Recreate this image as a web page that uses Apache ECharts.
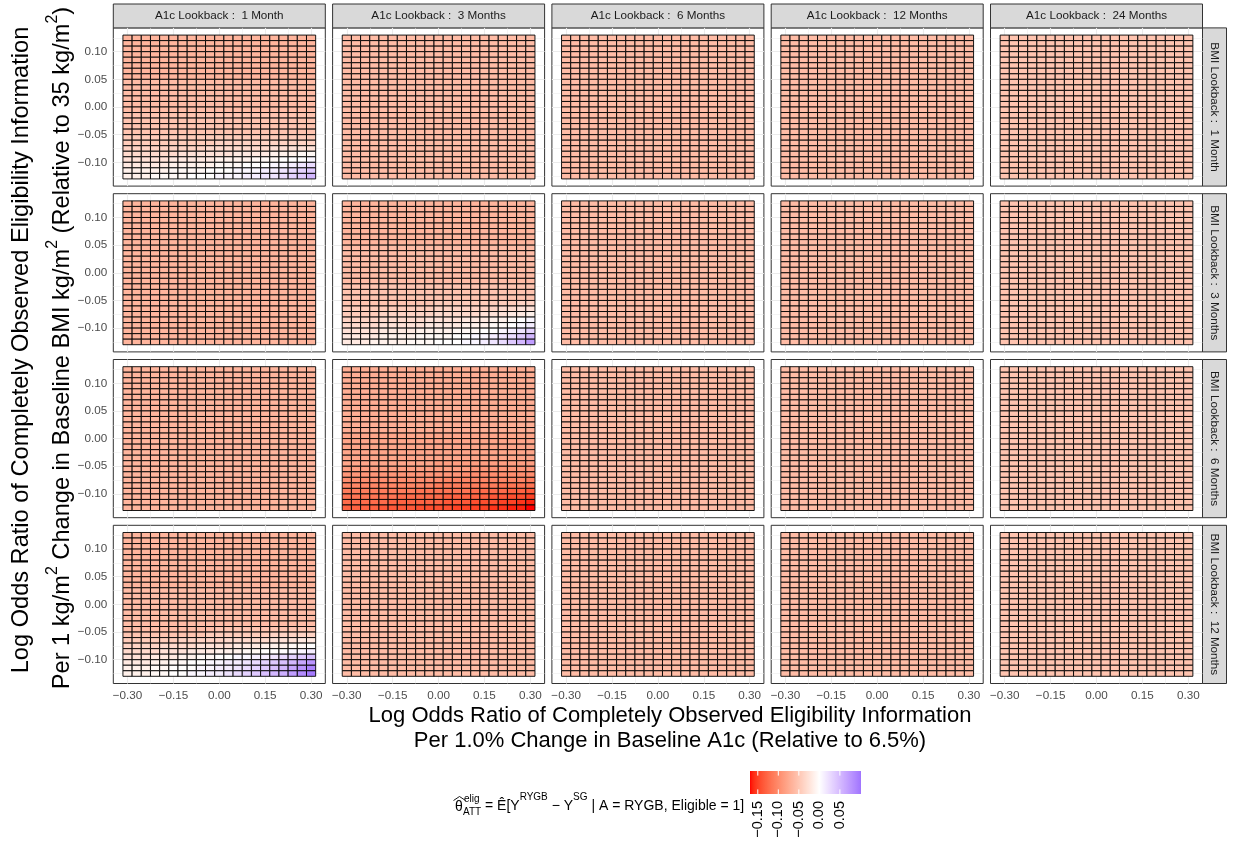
<!DOCTYPE html>
<html>
<head>
<meta charset="utf-8">
<script src="https://cdn.jsdelivr.net/npm/echarts@6/dist/echarts.min.js"></script>
<style>html,body{margin:0;padding:0;background:#fff}#chart{width:1235px;height:845px}</style>
</head>
<body>
<div id="chart"></div>
<script>
// ---------------- DATA ----------------
const A1C_LABELS = ['A1c Lookback :  1 Month', 'A1c Lookback :  3 Months', 'A1c Lookback :  6 Months', 'A1c Lookback :  12 Months', 'A1c Lookback :  24 Months'];
const BMI_LABELS = ['BMI Lookback :  1 Month', 'BMI Lookback :  3 Months', 'BMI Lookback :  6 Months', 'BMI Lookback :  12 Months'];
const X_VALUES = [-0.30, -0.27, -0.24, -0.21, -0.18, -0.15, -0.12, -0.09, -0.06, -0.03, 0.00, 0.03, 0.06, 0.09, 0.12, 0.15, 0.18, 0.21, 0.24, 0.27, 0.30];
const Y_VALUES = [0.125, 0.115, 0.105, 0.095, 0.085, 0.075, 0.065, 0.055, 0.045, 0.035, 0.025, 0.015, 0.005, -0.005, -0.015, -0.025, -0.035, -0.045, -0.055, -0.065, -0.075, -0.085, -0.095, -0.105, -0.115, -0.125];
const X_TICKS = [-0.30, -0.15, 0.00, 0.15, 0.30];
const X_MINOR = [-0.225, -0.075, 0.075, 0.225];
const Y_TICKS = [-0.10, -0.05, 0.00, 0.05, 0.10];
const Y_MINOR = [-0.125, -0.075, -0.025, 0.025, 0.075, 0.125];
const LEGEND_BREAKS = [-0.15, -0.10, -0.05, 0.00, 0.05];
const VALUE_RANGE = [-0.169, 0.1015];
// cell value codes: 'a' = -0.169 ... 'A' = 0.000 ... 'P' = +0.0975 (step 0.0065)
const VALUE_CODES = 'abcdefghijklmnopqrstuvwxyzABCDEFGHIJKLMNOP';
const CODE_MIN = -0.169, CODE_STEP = 0.0065;

// rows listed top (y = 0.125) to bottom (y = -0.125); 21 columns x = -0.30 .. 0.30
const BMI1_A1C1 = [
 'qqqqqqq qqqqqqq qqqqqqq','qqqqqqq qqqqqqq qqqqqqq','qqqqqqq qqqqqqq qqqqqqq','qqqqqqq qqqqqqq qqqqqqq',
 'qqqqqqq qqqqqqq qqqqqqq','qqqqqqq qqqqqqq qqqqqqq','qqqqqqq qqqqqqq qqqqqqq','qqqqqqq qqqqqqq qqqqqqq',
 'rrrrrrr rrrrrrr rrrrrrr','rrrrrrr rrrrrrr rrrrrrr','rrrrrrr rrrrrrr rrrrrrr','rrrrrrr rrrrrrr rrrrrrr',
 'rrrrrrr rrrrrrr rrrrrrr','rrrrrrr rrrrrrr rrrrrrr','sssssss sssssss sssssss','sssssss sssssss sssssss',
 'sssssss sssssss sssssss','sssssss sssssss sssssss','ttttttt ttttttt ttttttt','ttttttt tttuuuu uuuuuuu',
 'uuuuuuu uuvvvvv vvwwwww','vvvvvvw wwwwwxx xxyyyzz','wwwwwxx xxxyyyy zzzAAAB','xxxxxyy yyyzzzA AABBCDE',
 'yyyyyzz zzAAABB BCCDEFG','yyyzzzz AAABBBC CDDEFGI'];
const BMI1_A1C3 = [
 'rrrrrrr rrrrrrr rrrrrrr','rrrrrrr rrrrrrr rrrrrrr','rrrrrrr rrrrrrr rrrrrrr','rrrrrrr rrrrrrr rrrrrrr',
 'rrrrrrr rrrrrrr rrrrrrr','rrrrrrr rrrrrrr rrrrrrr','rrrrrrr rrrrrrr rrrrrrr','rrrrrrr rrrrrrr rrrrrrr',
 'rrrrrrr rrrrrrr rrrrrrr','rrrrrrr rrrrrrr rrrrrrr','rrrrrrr rrrrrrr rrrrrrr','rrrrrrr rrrrrrr rrrrrrr',
 'rrrrrrr rrrrrrr rrrrrrr','rrrrrrr rrrrrrr rrrrrrr','rrrrrrr rrrrrrr rrrrrrr','rrrrrrr rrrrrrr rrrrrrr',
 'rrrrrrr rrrrrrr rrrrrrr','rrrrrrr rrrrrrr rrrrrrr','rrrrrrr rrrrrrr rrrrrrr','rrrrrrr rrrrrrr rrrrrrr',
 'rrrrrrr rrrrrrr rrrrrrr','rrrrrrr rrrrrrr rrrrrrr','rrrrrrr rrrrrrr rrrrrrr','rrrrrrr rrrrrrr rrrrrrr',
 'rrrrrrr rrrrrrr rrrrrrr','rrrrrrr rrrrrrr rrrrrrr'];
const BMI1_A1C6 = [
 'rrrrrrr rrrrrrr rrrrrrr','rrrrrrr rrrrrrr rrrrrrr','rrrrrrr rrrrrrr rrrrrrr','rrrrrrr rrrrrrr rrrrrrr',
 'rrrrrrr rrrrrrr rrrrrrr','rrrrrrr rrrrrrr rrrrrrr','rrrrrrr rrrrrrr rrrrrrr','rrrrrrr rrrrrrr rrrrrrr',
 'rrrrrrr rrrrrrr rrrrrrr','rrrrrrr rrrrrrr rrrrrrr','rrrrrrr rrrrrrr rrrrrrr','rrrrrrr rrrrrrr rrrrrrr',
 'rrrrrrr rrrrrrr rrrrrrr','rrrrrrr rrrrrrr rrrrrrr','rrrrrrr rrrrrrr rrrrrrr','rrrrrrr rrrrrrr rrrrrrr',
 'rrrrrrr rrrrrrr rrrrrrr','rrrrrrr rrrrrrr rrrrrrr','rrrrrrr rrrrrrr rrrrrrr','rrrrrrr rrrrrrr rrrrrrr',
 'rrrrrrr rrrrrrr rrrrrrr','rrrrrrr rrrrrrr rrrrrrr','rrrrrrr rrrrrrr rrrrrrr','rrrrrrr rrrrrrr rrrrrrr',
 'rrrrrrr rrrrrrr rrrrrrr','rrrrrrr rrrrrrr rrrrrrr'];
const BMI1_A1C12 = BMI1_A1C6.slice();
const BMI1_A1C24 = [
 'sssssss sssssss sssssss','sssssss sssssss sssssss','sssssss sssssss sssssss','sssssss sssssss sssssss',
 'sssssss sssssss sssssss','sssssss sssssss sssssss','sssssss sssssss sssssss','sssssss sssssss sssssss',
 'sssssss sssssss sssssss','sssssss sssssss sssssss','sssssss sssssss sssssss','sssssss sssssss sssssss',
 'sssssss sssssss sssssss','sssssss sssssss sssssss','sssssss sssssss sssssss','sssssss sssssss sssssss',
 'sssssss sssssss sssssss','sssssss sssssss sssssss','sssssss sssssss sssssss','sssssss sssssss sssssss',
 'sssssss sssssss sssssss','sssssss sssssss sssssss','sssssss sssssss sssssss','sssssss sssssss sssssss',
 'sssssss sssssss sssssss','sssssss sssssss sssssss'];

const BMI3_A1C1 = [
 'qqqqqqq qqqqqqq qqqqqqq','qqqqqqq qqqqqqq qqqqqqq','qqqqqqq qqqqqqq qqqqqqq','qqqqqqq qqqqqqq qqqqqqq',
 'qqqqqqq qqqqqqq qqqqqqq','qqqqqqq qqqqqqq qqqqqqq','qqqqqqq qqqqqqq qqqqqqq','qqqqqqq qqqqqqq qqqqqqq',
 'qqqqqqq qqqqqqq qqqqqqq','qqqqqqq qqqqqqq qqqqqqq','qqqqqqq qqqqqqq qqqqqqq','qqqqqqq qqqqqqq qqqqqqq',
 'qqqqqqq qqqqqqq qqqqqqq','qqqqqqq qqqqqqq qqqqqqq','qqqqqqq qqqqqqq qqqqqqq','qqqqqqq qqqqqqq qqqqqqq',
 'qqqqqqq qqqqqqq qqqqqqq','qqqqqqq qqqqqqq qqqqqqq','qqqqqqq qqqqqqq qqqqqqq','qqqqqqq qqqqqqq qqqqqqq',
 'qqqqqqq qqqqqqq qqqqqqq','qqqqqqq qqqqqqq qqqqqqq','qqqqqqq qqqqqqq qqqqqqq','qqqqqqq qqqqqqq qqqqqqq',
 'qqqqqqq qqqqqqq qqqqqqq','qqqqqqq qqqqqqq qqqqqqq'];
const BMI3_A1C3 = [
 'qqqqqqq qqqqqqq qqqqqqq','qqqqqqq qqqqqqq qqqqqqq','qqqqqqq qqqqqqq qqqqqqq','qqqqqqq qqqqqqq qqqqqqq',
 'qqqqqqq qqqqqqq qqqqqqq','qqqqqqq qqqqqqq qqqqqqq','qqqqqqq qqqqqqq qqqqqqq','qqqqqqq qqqqqqq qqqqqqq',
 'rrrrrrr rrrrrrr rrrrrrr','rrrrrrr rrrrrrr rrrrrrr','rrrrrrr rrrrrrr rrrrrrr','rrrrrrr rrrrrrr rrrrrrr',
 'rrrrrrr rrrrrrr rrrrrrr','rrrrrrr rrrrrrr rrrrrrr','rrrrrrr rrrrrrr rrrrrrr','sssssss sssssss sssssss',
 'sssssss sssssss sssssss','sssssss sssssss sssssss','sssssss ssstttt tttttuu','ttttttt tttuuuu uuuvvww',
 'ttttuuu uuuvvvv vwwwxxy','uuuuvvv vvwwwwx xxyyzAB','vvvvwww wwxxxxy yyzzABC','wwwwxxx xyyyyzz zAABCDF',
 'xxxxyyy yzzzzAA BBCDEGI','xxxyyyy zzzAAAB BCDEGIL'];
const BMI3_A1C6 = BMI1_A1C6.slice();
const BMI3_A1C12 = BMI1_A1C6.slice();
const BMI3_A1C24 = BMI1_A1C24.slice();

const BMI6_A1C1 = BMI3_A1C1.slice();
const BMI6_A1C3 = [
 'ppppppp ppppppp ppppppp','ppppppp ppppppp ppppppp','ppppppp ppppppp ppppppp','ppppppp ppppppp ppppppp',
 'ppppppp ppppppp ppppppp','ppppppp ppppppp ppppppp','ppppppp ppppppp ppppppp','ppppppp ppppppp ppppppp',
 'ppppppp ppppppp ppppppp','ppppppp ppppppp ppppppp','ppppppp ppppppp ppppppp','ppppppp ppppppp ppppppp',
 'ooooooo ooooooo ooooooo','ooooooo ooooooo ooooooo','ooooooo ooooooo ooooooo','ooooooo ooooooo ooooooo',
 'ooooooo ooooooo ooooooo','ooooooo ooonnnn nnnnnnn','nnnnnnn nnnnnnn mmmmmmm','mmmmmmm mmmmmml lllllll',
 'lllllll llllkkk kkkkkkj','kkkkkkk kkkjjjj jjjiiii','jjjjjjj jiiiiii hhhhggf','iiiiiih hhhhggg ggffeed',
 'hhhhhgg ggggfff eeeddcb','ggggfff feeeedd ddccbba'];
const BMI6_A1C6 = BMI1_A1C6.slice();
const BMI6_A1C12 = BMI1_A1C6.slice();
const BMI6_A1C24 = BMI1_A1C24.slice();

const BMI12_A1C1 = [
 'qqqqqqq qqqqqqq qqqqqqq','qqqqqqq qqqqqqq qqqqqqq','qqqqqqq qqqqqqq qqqqqqq','qqqqqqq qqqqqqq qqqqqqq',
 'qqqqqqq qqqqqqq qqqqqqq','qqqqqqq qqqqqqq qqqqqqq','qqqqqqq qqqqqqq qqqqqqq','qqqqqqq qqqqqqq qqqqqqq',
 'qqqqqqq qqqqqqq qqqqqqq','qqqqqqq qqqqqqq qqqqqqq','rrrrrrr rrrrrrr rrrrrrr','rrrrrrr rrrrrrr rrrrrrr',
 'rrrrrrr rrrrrrr rrrrrrr','rrrrrrr rrrrrrr rrrrrrr','rrrrrrr rrrrrrr rrrrrrr','rrrrrrr rrrrrrr rrrrrrr',
 'rrrrrrr rrrrrrr rrrrrrr','rrrrrrr rrrssss sssssss','sssssss ssttttt ttuuuuu','ttttttu uuuuvvv vvwwwxx',
 'uuuuvvv vwwwwxx xyyyzzA','vvvvwww xxxyyyz zAAABBC','wwwxxxy yzzAABB CCDEFGH','xxxyyzz AABBCCD EFGHIKM',
 'yyyzzAA ABBCCDE FGHIKMO','yyyzzAA BBCCDEF GHIJLNP'];
const BMI12_A1C3 = BMI1_A1C6.slice();
const BMI12_A1C6 = BMI1_A1C6.slice();
const BMI12_A1C12 = BMI1_A1C6.slice();
const BMI12_A1C24 = BMI1_A1C24.slice();

const PANELS = [
  [BMI1_A1C1, BMI1_A1C3, BMI1_A1C6, BMI1_A1C12, BMI1_A1C24],
  [BMI3_A1C1, BMI3_A1C3, BMI3_A1C6, BMI3_A1C12, BMI3_A1C24],
  [BMI6_A1C1, BMI6_A1C3, BMI6_A1C6, BMI6_A1C12, BMI6_A1C24],
  [BMI12_A1C1, BMI12_A1C3, BMI12_A1C6, BMI12_A1C12, BMI12_A1C24]
];

// ---------------- STYLE / LAYOUT ----------------
const FONT = "'Liberation Sans', Arial, Helvetica, sans-serif";
const GRID_LEFT0 = 113.3, GRID_PITCH_X = 219.3, GRID_W = 212;
const GRID_TOP0 = 27.9, GRID_PITCH_Y = 165.8, GRID_H = 158.2;
const STRIP_TOP = 4, STRIP_RIGHT_W = 24;
const X_EXT = 0.3465, Y_EXT = 0.143;
const TILE_W = 0.03, TILE_H = 0.01;

// Lab interpolation (like ggplot2's scale_fill_gradient2: red / white / blue, midpoint 0)
const WP = [0.95047, 1, 1.08883];
function s2l(c){ c /= 255; return c <= 0.04045 ? c / 12.92 : Math.pow((c + 0.055) / 1.055, 2.4); }
function l2s(c){ c = c <= 0.0031308 ? 12.92 * c : 1.055 * Math.pow(c, 1 / 2.4) - 0.055; return Math.max(0, Math.min(255, Math.round(c * 255))); }
function hex2rgb(h){ return [parseInt(h.substr(1,2),16), parseInt(h.substr(3,2),16), parseInt(h.substr(5,2),16)]; }
function rgb2lab(rgb){
  const [r,g,b] = rgb.map(s2l);
  const X = (0.4124564*r + 0.3575761*g + 0.1804375*b) / WP[0];
  const Y = (0.2126729*r + 0.7151522*g + 0.0721750*b);
  const Z = (0.0193339*r + 0.1191920*g + 0.9503041*b) / WP[2];
  const f = t => t > 0.008856 ? Math.cbrt(t) : (7.787 * t + 16/116);
  const fx = f(X), fy = f(Y), fz = f(Z);
  return [116*fy - 16, 500*(fx - fy), 200*(fy - fz)];
}
function lab2hex(lab){
  const [L,a,b] = lab;
  const fy = (L + 16) / 116, fx = fy + a / 500, fz = fy - b / 200;
  const fi = t => (t*t*t > 0.008856) ? t*t*t : (t - 16/116) / 7.787;
  const X = fi(fx) * WP[0], Y = fi(fy), Z = fi(fz) * WP[2];
  const r = 3.2404542*X - 1.5371385*Y - 0.4985314*Z;
  const g = -0.9692660*X + 1.8760108*Y + 0.0415560*Z;
  const bb = 0.0556434*X - 0.2040259*Y + 1.0572252*Z;
  return '#' + [l2s(r), l2s(g), l2s(bb)].map(v => v.toString(16).padStart(2,'0')).join('');
}
const LAB_LOW = rgb2lab(hex2rgb('#FF0000')), LAB_MID = rgb2lab(hex2rgb('#FFFFFF')), LAB_HIGH = rgb2lab(hex2rgb('#0000FF'));
const HALF_SPAN = Math.max(Math.abs(VALUE_RANGE[0]), Math.abs(VALUE_RANGE[1]));
function scaleColor(v){
  const t = Math.min(1, Math.abs(v) / HALF_SPAN);
  const end = v < 0 ? LAB_LOW : LAB_HIGH;
  return lab2hex([0,1,2].map(i => LAB_MID[i] + (end[i] - LAB_MID[i]) * t));
}
const N_STOPS = 109;
const COLOR_STOPS = [];
for (let i = 0; i < N_STOPS; i++) {
  const v = VALUE_RANGE[0] + (VALUE_RANGE[1] - VALUE_RANGE[0]) * i / (N_STOPS - 1);
  COLOR_STOPS.push(scaleColor(v));
}

function decode(code){ return CODE_MIN + VALUE_CODES.indexOf(code) * CODE_STEP; }
function fmtNum(v){ const s = Math.abs(v).toFixed(2); return (v < -1e-9 ? '\u2212' : '') + s; }

const grids = [], xAxes = [], yAxes = [], series = [], graphics = [];
for (let r = 0; r < 4; r++) {
  for (let c = 0; c < 5; c++) {
    const k = r * 5 + c;
    const left = GRID_LEFT0 + c * GRID_PITCH_X, top = GRID_TOP0 + r * GRID_PITCH_Y;
    grids.push({ left: left, top: top, width: GRID_W, height: GRID_H, show: true, backgroundColor: '#FFFFFF', borderColor: '#333333', borderWidth: 1 });
    const isBottom = r === 3, isLeft = c === 0;
    xAxes.push({ gridIndex: k, type: 'value', min: -X_EXT, max: X_EXT,
      axisLine: { show: false },
      axisTick: { show: isBottom, customValues: X_TICKS, length: 4, lineStyle: { color: '#333333', width: 1 } },
      axisLabel: { show: isBottom, customValues: X_TICKS, formatter: fmtNum, color: '#4D4D4D', fontSize: 11.7, fontFamily: FONT, margin: 6 },
      splitLine: { show: true, lineStyle: { color: '#EBEBEB', width: 1.1 } } });
    xAxes.push({ gridIndex: k, type: 'value', min: -X_EXT, max: X_EXT,
      axisLine: { show: false }, axisTick: { show: false, customValues: X_MINOR }, axisLabel: { show: false },
      splitLine: { show: true, lineStyle: { color: '#EBEBEB', width: 0.55 } } });
    yAxes.push({ gridIndex: k, type: 'value', min: -Y_EXT, max: Y_EXT,
      axisLine: { show: false },
      axisTick: { show: isLeft, customValues: Y_TICKS, length: 4, lineStyle: { color: '#333333', width: 1 } },
      axisLabel: { show: isLeft, customValues: Y_TICKS, formatter: fmtNum, color: '#4D4D4D', fontSize: 11.7, fontFamily: FONT, margin: 6 },
      splitLine: { show: true, lineStyle: { color: '#EBEBEB', width: 1.1 } } });
    yAxes.push({ gridIndex: k, type: 'value', min: -Y_EXT, max: Y_EXT,
      axisLine: { show: false }, axisTick: { show: false, customValues: Y_MINOR }, axisLabel: { show: false },
      splitLine: { show: true, lineStyle: { color: '#EBEBEB', width: 0.55 } } });

    const rows = PANELS[r][c];
    const data = [];
    rows.forEach((rowStr, yi) => {
      const s = rowStr.replace(/ /g, '');
      for (let xi = 0; xi < s.length && xi < X_VALUES.length; xi++) {
        data.push([X_VALUES[xi], Y_VALUES[yi], decode(s[xi])]);
      }
    });
    series.push({ type: 'custom', xAxisIndex: 2 * k, yAxisIndex: 2 * k, silent: true, animation: false,
      renderItem: function (params, api) {
        const x = api.value(0), y = api.value(1);
        const a = api.coord([x - TILE_W / 2, y + TILE_H / 2]);
        const b = api.coord([x + TILE_W / 2, y - TILE_H / 2]);
        return { type: 'rect', shape: { x: a[0], y: a[1], width: b[0] - a[0], height: b[1] - a[1] },
          style: { fill: api.visual('color'), stroke: '#000000', lineWidth: 0.9 } };
      },
      data: data });

    if (r === 0) {
      graphics.push({ type: 'rect', shape: { x: left, y: STRIP_TOP, width: GRID_W, height: GRID_TOP0 - STRIP_TOP },
        style: { fill: '#D9D9D9', stroke: '#333333', lineWidth: 1 } });
      graphics.push({ type: 'text', x: left + GRID_W / 2, y: (STRIP_TOP + GRID_TOP0) / 2,
        style: { text: A1C_LABELS[c], font: '11.7px ' + FONT, fill: '#1A1A1A', align: 'center', verticalAlign: 'middle', textAlign: 'center', textVerticalAlign: 'middle' } });
    }
    if (c === 4) {
      const sx = left + GRID_W;
      graphics.push({ type: 'rect', shape: { x: sx, y: top, width: STRIP_RIGHT_W, height: GRID_H },
        style: { fill: '#D9D9D9', stroke: '#333333', lineWidth: 1 } });
      graphics.push({ type: 'text', x: sx + STRIP_RIGHT_W / 2, y: top + GRID_H / 2, rotation: -Math.PI / 2,
        style: { text: BMI_LABELS[r], font: '11.7px ' + FONT, fill: '#1A1A1A', align: 'center', verticalAlign: 'middle', textAlign: 'center', textVerticalAlign: 'middle' } });
    }
  }
}

// axis titles
const TITLE_FONT = '22px ' + FONT, YTITLE_FONT = '23.6px ' + FONT;
graphics.push({ type: 'text', x: 670, y: 716, style: { text: 'Log Odds Ratio of Completely Observed Eligibility Information', font: TITLE_FONT, fill: '#000', align: 'center', verticalAlign: 'middle', textAlign: 'center', textVerticalAlign: 'middle' } });
graphics.push({ type: 'text', x: 670, y: 741, style: { text: 'Per 1.0% Change in Baseline A1c (Relative to 6.5%)', font: TITLE_FONT, fill: '#000', align: 'center', verticalAlign: 'middle', textAlign: 'center', textVerticalAlign: 'middle' } });
graphics.push({ type: 'text', x: 21, y: 350, rotation: Math.PI / 2, style: { text: 'Log Odds Ratio of Completely Observed Eligibility Information', font: YTITLE_FONT, fill: '#000', align: 'center', verticalAlign: 'middle', textAlign: 'center', textVerticalAlign: 'middle' } });
graphics.push({ type: 'text', x: 62, y: 348, rotation: Math.PI / 2, style: {
  text: 'Per 1 kg/m{s|2} Change in Baseline BMI kg/m{s|2} (Relative to 35 kg/m{s|2})',
  font: YTITLE_FONT, fill: '#000', lineHeight: 34, align: 'center', verticalAlign: 'middle', textAlign: 'center', textVerticalAlign: 'middle',
  rich: { s: { font: '16px ' + FONT, fill: '#000', verticalAlign: 'top' } } } });

// legend
const LEG_X = 750, LEG_Y = 771, LEG_W = 111, LEG_H = 23;
graphics.push({ type: 'rect', shape: { x: LEG_X, y: LEG_Y, width: LEG_W, height: LEG_H },
  style: { fill: { type: 'linear', x: 0, y: 0, x2: 1, y2: 0, colorStops: COLOR_STOPS.map((col, i) => ({ offset: i / (N_STOPS - 1), color: col })) } } });
LEGEND_BREAKS.forEach(b => {
  const px = LEG_X + (b - VALUE_RANGE[0]) / (VALUE_RANGE[1] - VALUE_RANGE[0]) * LEG_W;
  graphics.push({ type: 'line', shape: { x1: px, y1: LEG_Y, x2: px, y2: LEG_Y + LEG_H / 5 }, style: { stroke: '#FFFFFF', lineWidth: 1 } });
  graphics.push({ type: 'line', shape: { x1: px, y1: LEG_Y + LEG_H * 4 / 5, x2: px, y2: LEG_Y + LEG_H }, style: { stroke: '#FFFFFF', lineWidth: 1 } });
  graphics.push({ type: 'text', x: px, y: 801, rotation: Math.PI / 2,
    style: { text: fmtNum(b), font: '14.5px ' + FONT, fill: '#000', align: 'right', verticalAlign: 'middle', textAlign: 'right', textVerticalAlign: 'middle' } });
});
const LEG_FONT = '14px ' + FONT, LEG_SMALL = '10px ' + FONT;
graphics.push({ type: 'text', x: 455, y: 807, style: { text: '\u03B8', font: LEG_FONT, fill: '#000', align: 'left', verticalAlign: 'middle', textAlign: 'left', textVerticalAlign: 'middle' } });
graphics.push({ type: 'polyline', shape: { points: [[453.5, 800.5], [459.5, 796.5], [465.5, 800.5]] }, style: { stroke: '#000', lineWidth: 0.9, fill: null } });
graphics.push({ type: 'text', x: 464, y: 799, style: { text: 'elig', font: LEG_SMALL, fill: '#000', align: 'left', verticalAlign: 'middle', textAlign: 'left', textVerticalAlign: 'middle' } });
graphics.push({ type: 'text', x: 463, y: 812, style: { text: 'ATT', font: LEG_SMALL, fill: '#000', align: 'left', verticalAlign: 'middle', textAlign: 'left', textVerticalAlign: 'middle' } });
graphics.push({ type: 'text', x: 485, y: 806, style: {
  text: '= \u00CA[Y{s|RYGB} \u2212 Y{s|SG} | A = RYGB, Eligible = 1]',
  font: LEG_FONT, fill: '#000', lineHeight: 28, align: 'left', verticalAlign: 'middle', textAlign: 'left', textVerticalAlign: 'middle',
  rich: { s: { font: LEG_SMALL, fill: '#000', verticalAlign: 'top' } } } });

const chart = echarts.init(document.getElementById('chart'), null, { renderer: 'canvas' });
chart.setOption({
  backgroundColor: '#FFFFFF',
  animation: false,
  grid: grids,
  xAxis: xAxes,
  yAxis: yAxes,
  visualMap: { type: 'continuous', show: false, min: VALUE_RANGE[0], max: VALUE_RANGE[1], dimension: 2,
    seriesIndex: series.map((s, i) => i), inRange: { color: COLOR_STOPS } },
  series: series,
  graphic: graphics
});
</script>
</body>
</html>
